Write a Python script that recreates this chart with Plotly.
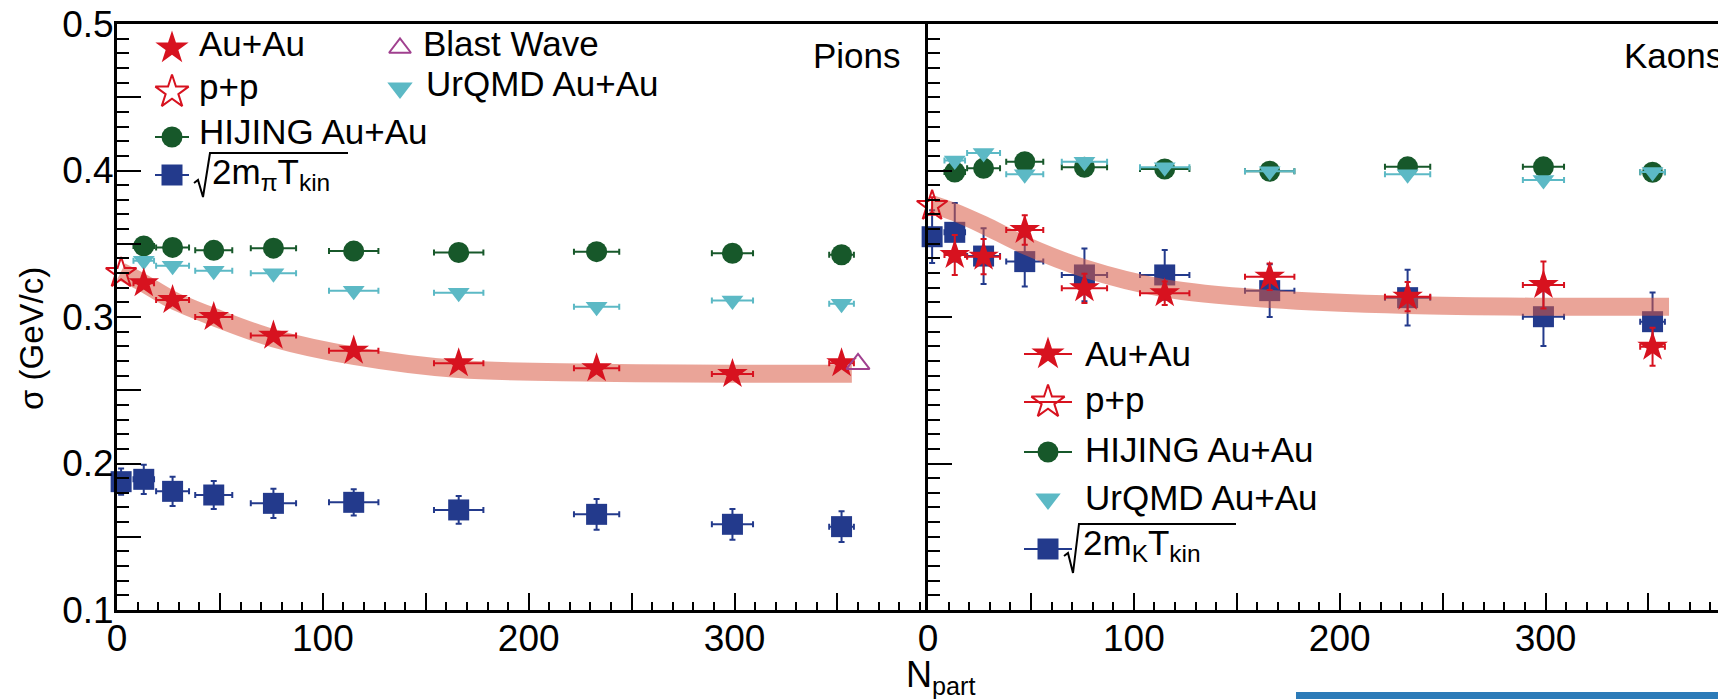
import plotly.graph_objects as go

# ---------------- data ----------------
npart = [13, 27, 47, 76, 115, 166, 233, 299, 352]
npart_err = [5, 8, 9, 11, 12, 12, 11, 10, 6]
pp_npart = [2]

# Pions
pi_auau = [0.323, 0.3116, 0.300, 0.2873, 0.277, 0.2684, 0.265, 0.2611, 0.2684]
pi_auau_err = [0.003, 0.003, 0.003, 0.003, 0.003, 0.003, 0.003, 0.003, 0.003]
pi_pp = [0.330]
pi_hijing = [0.3485, 0.3475, 0.3455, 0.347, 0.345, 0.344, 0.3446, 0.3435, 0.3425]
pi_urqmd = [0.3384, 0.335, 0.3316, 0.3298, 0.318, 0.3165, 0.307, 0.3113, 0.309]
pi_sqrt = [0.1892, 0.181, 0.1785, 0.1728, 0.1735, 0.1683, 0.1653, 0.1585, 0.1569]
pi_sqrt_err = [0.010, 0.010, 0.0095, 0.010, 0.009, 0.0095, 0.0105, 0.0105, 0.0105]
pi_sqrt_pp = [0.1876]
pi_sqrt_pp_err = [0.009]
pi_bw_npart = [360]
pi_bw = [0.268]
pi_band_x = [2, 13, 27, 47, 76, 115, 166, 233, 299, 357]
pi_band_y = [0.331, 0.323, 0.3116, 0.300, 0.2855, 0.2735, 0.2645, 0.262, 0.2612, 0.2612]

# Kaons
k_auau = [0.3423, 0.3412, 0.3594, 0.3196, 0.3162, 0.3275, 0.3139, 0.3218, 0.2797]
k_auau_err = [0.0137, 0.012, 0.010, 0.010, 0.008, 0.009, 0.010, 0.016, 0.013]
k_pp = [0.3758]
k_pp_err = [0.006]
k_hijing = [0.3990, 0.4015, 0.406, 0.4022, 0.401, 0.3995, 0.4025, 0.4025, 0.3988]
k_urqmd = [0.4068, 0.412, 0.3974, 0.406, 0.4022, 0.3995, 0.3974, 0.3935, 0.3990]
k_sqrt = [0.3578, 0.3416, 0.3378, 0.3287, 0.3287, 0.318, 0.3132, 0.3002, 0.2968]
k_sqrt_err = [0.020, 0.019, 0.017, 0.018, 0.017, 0.018, 0.019, 0.020, 0.020]
k_sqrt_pp = [0.3548]
k_sqrt_pp_err = [0.018]
k_band_x = [2, 13, 27, 47, 76, 115, 166, 233, 299, 360]
k_band_y = [0.377, 0.3715, 0.3628, 0.349, 0.3332, 0.3196, 0.3123, 0.3082, 0.307, 0.307]

x_tickvals = [0, 50, 100, 150, 200, 250, 300, 350]
x_ticktext = ["0", "", "100", "", "200", "", "300", ""]
y_tickvals = [0.1, 0.15, 0.2, 0.25, 0.3, 0.35, 0.4, 0.45, 0.5]
y_ticktext = ["0.1", "", "0.2", "", "0.3", "", "0.4", "", "0.5"]

# ---------------- style ----------------
RED = "#d7121f"
GREEN = "#17582a"
CYAN = "#5cb9c5"
NAVY = "#233a8c"
PURPLE = "#a0408f"
BAND = "rgba(217,90,68,0.55)"
FONT = "Liberation Sans, Arial, Helvetica, sans-serif"

W, H = 1718, 699
L, R, T, B = 117, 0, 24, 89
X_SPLIT = 928  # pixel of panel divider
d_split = (X_SPLIT - L) / (W - L - R)

fig = go.Figure()


def pts(x, y, xa, ya, symbol, color, size, xerr=None, yerr=None, open_=False):
    fig.add_trace(go.Scatter(
        x=x, y=y, mode="markers", xaxis=xa, yaxis=ya, cliponaxis=False,
        marker=dict(symbol=symbol, size=size, color=color,
                    line=dict(width=2 if open_ else 0, color=color)),
        error_x=dict(type="data", array=xerr if xerr else [0] * len(x),
                     visible=xerr is not None, color=color, thickness=2, width=3),
        error_y=dict(type="data", array=yerr if yerr else [0] * len(y),
                     visible=yerr is not None, color=color, thickness=2, width=3),
        showlegend=False, hoverinfo="skip"))


def band(x, y, xa, ya):
    fig.add_trace(go.Scatter(x=x, y=y, mode="lines", xaxis=xa, yaxis=ya,
                             line=dict(color=BAND, width=18, shape="spline"),
                             cliponaxis=False, showlegend=False, hoverinfo="skip"))


# Pions panel
pts(npart, pi_hijing, "x", "y", "circle", GREEN, 21, xerr=npart_err)
pts(npart, pi_urqmd, "x", "y", "triangle-down", CYAN, 19, xerr=npart_err)
pts(npart, pi_sqrt, "x", "y", "square", NAVY, 21, xerr=npart_err, yerr=pi_sqrt_err)
pts(pp_npart, pi_sqrt_pp, "x", "y", "square", NAVY, 21, yerr=pi_sqrt_pp_err)
band(pi_band_x, pi_band_y, "x", "y")
pts(npart, pi_auau, "x", "y", "star", RED, 23, xerr=npart_err, yerr=pi_auau_err)
pts(pp_npart, pi_pp, "x", "y", "star-open", RED, 23, open_=True)
pts(pi_bw_npart, pi_bw, "x", "y", "triangle-up-open", PURPLE, 20, open_=True)

# Kaons panel
pts(npart, k_hijing, "x2", "y2", "circle", GREEN, 21, xerr=npart_err)
pts(npart, k_urqmd, "x2", "y2", "triangle-down", CYAN, 19, xerr=npart_err)
pts(npart, k_sqrt, "x2", "y2", "square", NAVY, 21, xerr=npart_err, yerr=k_sqrt_err)
pts(pp_npart, k_sqrt_pp, "x2", "y2", "square", NAVY, 21, yerr=k_sqrt_pp_err)
band(k_band_x, k_band_y, "x2", "y2")
pts(npart, k_auau, "x2", "y2", "star", RED, 23, xerr=npart_err, yerr=k_auau_err)
pts(pp_npart, k_pp, "x2", "y2", "star-open", RED, 23, yerr=k_pp_err, open_=True)

# ---------------- legends (pixel overlay subplot x3/y3) ----------------
def leg_marker(x, y, symbol, color, size, half=None, open_=False):
    if half:
        fig.add_trace(go.Scatter(x=[x - half, x + half], y=[y, y], mode="lines",
                                 xaxis="x3", yaxis="y3", line=dict(color=color, width=2),
                                 showlegend=False, hoverinfo="skip", cliponaxis=False))
    fig.add_trace(go.Scatter(x=[x], y=[y], mode="markers", xaxis="x3", yaxis="y3",
                             marker=dict(symbol=symbol, size=size, color=color,
                                         line=dict(width=2 if open_ else 0, color=color)),
                             showlegend=False, hoverinfo="skip", cliponaxis=False))


annotations = []


def px2paper(x, y):
    return (x - L) / (W - L - R), (H - B - y) / (H - T - B)


def txt(x, y, s, size=35, xanchor="left", angle=0):
    xp, yp = px2paper(x, y)
    annotations.append(dict(x=xp, y=yp, xref="paper", yref="paper", text=s, showarrow=False,
                            xanchor=xanchor, yanchor="middle", textangle=angle,
                            font=dict(size=size, family=FONT, color="black")))


# left legend
leg_marker(172, 48, "star", RED, 25)
txt(197, 44, "Au+Au")
leg_marker(172, 92, "star-open", RED, 25, open_=True)
txt(197, 86, "p+p")
leg_marker(172, 137, "circle", GREEN, 21, half=17)
txt(197, 131, "HIJING Au+Au")
leg_marker(172, 175, "square", NAVY, 21, half=17)
txt(210, 174, "2m<sub>π</sub>T<sub>kin</sub>")
leg_marker(400, 48, "triangle-up-open", PURPLE, 19, open_=True)
txt(421, 44, "Blast Wave")
leg_marker(400, 88, "triangle-down", CYAN, 22)
txt(424, 84, "UrQMD Au+Au")

# right legend
leg_marker(1048, 354, "star", RED, 25, half=24)
txt(1083, 354, "Au+Au")
leg_marker(1048, 402, "star-open", RED, 25, half=24, open_=True)
txt(1083, 399, "p+p")
leg_marker(1048, 452, "circle", GREEN, 21, half=24)
txt(1083, 450, "HIJING Au+Au")
leg_marker(1048, 499, "triangle-down", CYAN, 22)
txt(1083, 497, "UrQMD Au+Au")
leg_marker(1048, 549, "square", NAVY, 21, half=24)
txt(1081, 545, "2m<sub>K</sub>T<sub>kin</sub>")

# panel labels and axis titles
txt(903, 55, "Pions", xanchor="right")
txt(1622, 55, "Kaons")
txt(31, 339, "σ (GeV/c)", size=33, xanchor="center", angle=-90)
txt(940, 677, "N<sub>part</sub>", size=36, xanchor="center")

shapes = [
    # radical signs for the sqrt legend entries
    dict(type="path", xref="x3", yref="y3",
         path="M 194,183 L 198,180 L 203,197 L 210,153 L 348,153",
         line=dict(color="black", width=2)),
    dict(type="path", xref="x3", yref="y3",
         path="M 1064,556 L 1068,553 L 1073,573 L 1079,524 L 1236,524",
         line=dict(color="black", width=2)),
    # blue strip at bottom right
    dict(type="rect", xref="paper", yref="paper", layer="above",
         x0=(1296 - L) / (W - L - R), x1=1.01,
         y0=(H - T - B - (692 - T)) / (H - T - B), y1=-0.2,
         fillcolor="#2c7bb8", line=dict(width=0)),
]

axis_common = dict(showline=True, linecolor="black", linewidth=3, showgrid=False,
                   zeroline=False, ticks="inside", tickcolor="black", tickwidth=2,
                   tickfont=dict(size=37, family=FONT, color="black"))

xa = dict(axis_common, mirror=True, ticklen=17, tickmode="array",
          tickvals=x_tickvals, ticktext=x_ticktext, ticklabelstandoff=-6,
          minor=dict(ticks="inside", ticklen=8, tickwidth=1.5, tickcolor="black",
                     tickmode="linear", tick0=0, dtick=10))
ya = dict(axis_common, mirror=False, ticklen=24, tickmode="array",
          tickvals=y_tickvals, ticktext=y_ticktext, range=[0.1, 0.5],
          ticklabelstandoff=-7,
          minor=dict(ticks="inside", ticklen=12, tickwidth=1.5, tickcolor="black",
                     tickmode="linear", tick0=0.1, dtick=0.01))

px_per_unit = (X_SPLIT - L) / 394.0

fig.update_layout(
    width=W, height=H,
    margin=dict(l=L, r=R, t=T, b=B),
    paper_bgcolor="white", plot_bgcolor="rgba(0,0,0,0)",
    showlegend=False,
    font=dict(family=FONT, color="black"),
    xaxis=dict(xa, domain=[0, d_split], range=[0, 394], anchor="y"),
    yaxis=dict(ya, domain=[0, 1], anchor="x"),
    xaxis2=dict(xa, domain=[d_split, 1], range=[0, (W - R - X_SPLIT) / px_per_unit], anchor="y2"),
    yaxis2=dict(ya, domain=[0, 1], anchor="x2", showticklabels=False),
    xaxis3=dict(domain=[0, 1], range=[L, W - R], visible=False, anchor="y3"),
    yaxis3=dict(domain=[0, 1], range=[H - B, T], visible=False, anchor="x3"),
    annotations=annotations,
    shapes=shapes,
)

fig.write_html("out.html")
